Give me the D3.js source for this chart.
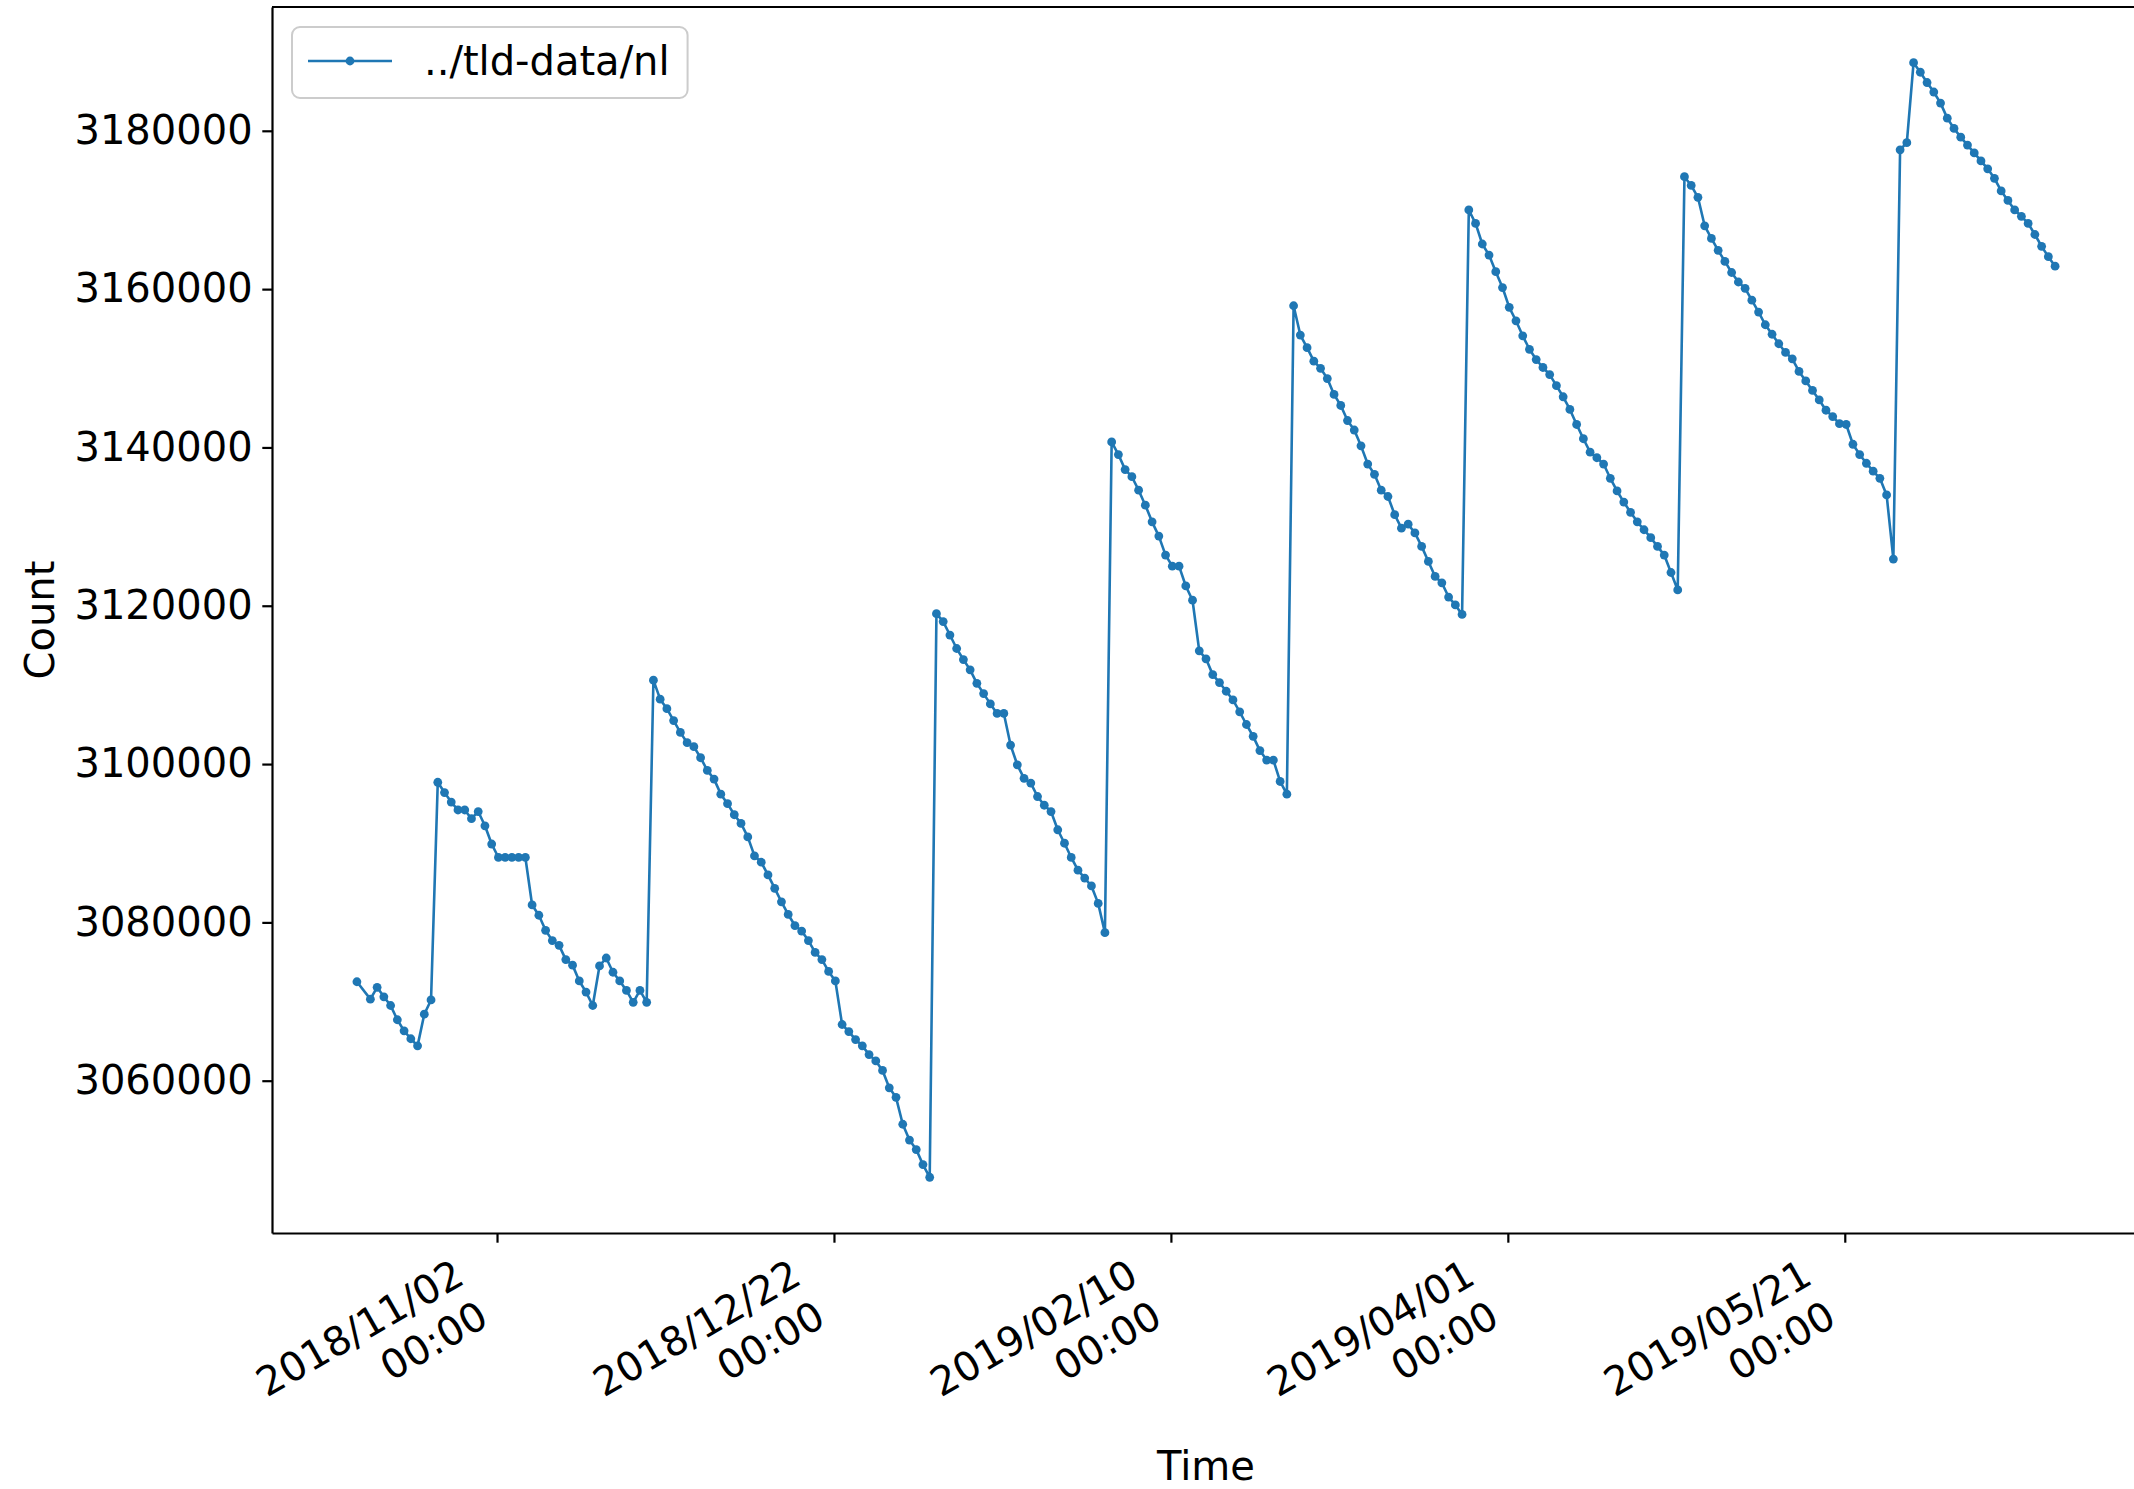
<!DOCTYPE html>
<html>
<head>
<meta charset="utf-8">
<script src="https://cdn.jsdelivr.net/npm/d3@7"></script>
<style>
    body { margin: 0; background: #fff; }
    text { font-family: "DejaVu Sans", sans-serif; fill: #000; }
</style>
</head>
<body>
<div id="vis"></div>
<script>
//values, one per day starting at startDate
//null = no sample that day (the line just joins the neighbours)
const seriesName = "../tld-data/nl"
const startDate = "2018-10-12T05:00:00Z"
const counts = [
    3072500, null, 3070300, 3071800, 3070600, 3069500, 3067700, 3066300, 3065300, 3064400,
    3068400, 3070200, 3097700, 3096400, 3095200, 3094200, 3094200, 3093100, 3094000, 3092200,
    3089900, 3088200, 3088200, 3088200, 3088200, 3088200, 3082200, 3080900, 3079000, 3077700,
    3077100, 3075300, 3074600, 3072600, 3071200, 3069500, 3074500, 3075500, 3073700, 3072600,
    3071400, 3069900, 3071400, 3069900, 3110600, 3108200, 3107000, 3105500, 3104000, 3102700,
    3102200, 3100800, 3099200, 3098100, 3096200, 3095000, 3093600, 3092500, 3090800, 3088400,
    3087600, 3086000, 3084300, 3082600, 3081000, 3079600, 3078900, 3077700, 3076200, 3075300,
    3073800, 3072600, 3067100, 3066200, 3065200, 3064400, 3063300, 3062500, 3061300, 3059100,
    3057900, 3054500, 3052500, 3051300, 3049400, 3047800, 3119000, 3118000, 3116300, 3114600,
    3113200, 3111900, 3110200, 3108900, 3107600, 3106400, 3106400, 3102400, 3099900, 3098200,
    3097600, 3095900, 3094800, 3094000, 3091700, 3090000, 3088200, 3086600, 3085600, 3084600,
    3082400, 3078700, 3140700, 3139100, 3137200, 3136300, 3134600, 3132700, 3130600, 3128800,
    3126400, 3125000, 3125000, 3122500, 3120700, 3114300, 3113300, 3111300, 3110300, 3109200,
    3108100, 3106600, 3105000, 3103500, 3101700, 3100500, 3100500, 3097800, 3096200, 3157900,
    3154200, 3152600, 3150900, 3150000, 3148700, 3146700, 3145300, 3143400, 3142200, 3140200,
    3137900, 3136600, 3134600, 3133800, 3131500, 3129800, 3130300, 3129200, 3127500, 3125600,
    3123700, 3122900, 3121100, 3120100, 3118900, 3170000, 3168300, 3165700, 3164300, 3162200,
    3160200, 3157700, 3156000, 3154100, 3152400, 3151100, 3150100, 3149200, 3147800, 3146400,
    3144800, 3142900, 3141100, 3139400, 3138700, 3137900, 3136100, 3134500, 3133100, 3131800,
    3130600, 3129600, 3128600, 3127500, 3126400, 3124200, 3122000, 3174200, 3173100, 3171600,
    3168000, 3166400, 3164900, 3163500, 3162100, 3160900, 3160100, 3158600, 3157100, 3155500,
    3154300, 3153100, 3152000, 3151200, 3149600, 3148400, 3147200, 3146000, 3144700, 3143900,
    3143000, 3142900, 3140400, 3139100, 3138000, 3137000, 3136100, 3134000, 3125900, 3177600,
    3178500, 3188600, 3187400, 3186100, 3184900, 3183500, 3181600, 3180300, 3179200, 3178200,
    3177200, 3176200, 3175200, 3174000, 3172400, 3171200, 3170000, 3169200, 3168300, 3166900,
    3165400, 3164100, 3162900
]

//tick labels
const yTicks = [3060000, 3080000, 3100000, 3120000, 3140000, 3160000, 3180000]
const xTicks = ["2018-11-02", "2018-12-22", "2019-02-10", "2019-04-01", "2019-05-21"]

//figure size and axes box (right edge sits just past the picture, like the original)
const width = 2134
const height = 1489
const box = { left: 272, top: 7, right: 2140, bottom: 1233 }
const fontSize = 40
const tickLen = 9.7
const tickPad = 9.7
const blue = "#1f77b4"
const lineW = 2.6
const dotR = 4.4

const start = new Date(startDate)
const points = counts
    .map((v, i) => ({ date: d3.utcDay.offset(start, i), value: v }))
    .filter(d => d.value !== null)

const svg = d3.select("#vis")
    .append("svg")
    .attr("width", width)
    .attr("height", height)
    .style("display", "block")
    .style("background", "#fff")

//matplotlib-like 5% margins around the data
const xExt = d3.extent(points, d => d.date)
const xPad = (xExt[1] - xExt[0]) * 0.05
const x = d3.scaleUtc()
    .domain([new Date(+xExt[0] - xPad), new Date(+xExt[1] + xPad)])
    .range([box.left, box.right])

const yExt = d3.extent(points, d => d.value)
const yPad = (yExt[1] - yExt[0]) * 0.05
const y = d3.scaleLinear()
    .domain([yExt[0] - yPad, yExt[1] + yPad])
    .range([box.bottom, box.top])

//y axis
const gy = svg.append("g")
    .attr("transform", `translate(${box.left},0)`)
    .call(d3.axisLeft(y)
        .tickValues(yTicks)
        .tickFormat(d3.format("d"))
        .tickSize(tickLen)
        .tickSizeOuter(0)
        .tickPadding(tickPad))
gy.selectAll("text").style("font-size", fontSize + "px").attr("fill", "#000")
gy.selectAll("line").attr("stroke", "#000").attr("stroke-width", 2.2)
gy.select(".domain").attr("stroke", "#000").attr("stroke-width", 2.2)

//x axis, labels added by hand below
const xTickDates = xTicks.map(s => new Date(s + "T00:00:00Z"))
const gx = svg.append("g")
    .attr("transform", `translate(0,${box.bottom})`)
    .call(d3.axisBottom(x)
        .tickValues(xTickDates)
        .tickFormat("")
        .tickSize(tickLen)
        .tickSizeOuter(0))
gx.selectAll("line").attr("stroke", "#000").attr("stroke-width", 2.2)
gx.select(".domain").attr("stroke", "#000").attr("stroke-width", 2.2)

//top spine
svg.append("line")
    .attr("x1", box.left).attr("x2", box.right)
    .attr("y1", box.top).attr("y2", box.top)
    .attr("stroke", "#000").attr("stroke-width", 2.2)

//rotated two line date labels, right edge of the rotated box under the tick
const fmt = d3.utcFormat("%Y/%m/%d")
const fmtTime = d3.utcFormat("%H:%M")
xTickDates.forEach(d => {
    const lab = svg.append("g")
    const t = lab.append("text")
        .attr("text-anchor", "end")
        .attr("transform", "rotate(-30)")
        .style("font-size", fontSize + "px")
    t.append("tspan").attr("x", 0).attr("dy", 0).text(fmt(d))
    t.append("tspan").attr("x", 0).attr("dy", "1.2em").text(fmtTime(d))
    const b = lab.node().getBBox()
    lab.attr("transform",
        `translate(${x(d) - 2 - (b.x + b.width)},${box.bottom + tickLen + tickPad - 2 - b.y})`)
})

//axis titles
svg.append("text")
    .attr("x", (box.left + box.right) / 2)
    .attr("y", 1480)
    .attr("text-anchor", "middle")
    .style("font-size", fontSize + "px")
    .text("Time")

svg.append("text")
    .attr("transform", `translate(54,${(box.top + box.bottom) / 2}) rotate(-90)`)
    .attr("text-anchor", "middle")
    .style("font-size", fontSize + "px")
    .text("Count")

//the series
const line = d3.line()
    .x(d => x(d.date))
    .y(d => y(d.value))

svg.append("path")
    .datum(points)
    .attr("d", line)
    .attr("fill", "none")
    .attr("stroke", blue)
    .attr("stroke-width", lineW)
    .attr("stroke-linejoin", "round")

svg.append("g")
    .selectAll("circle")
    .data(points)
    .enter()
    .append("circle")
    .attr("cx", d => x(d.date))
    .attr("cy", d => y(d.value))
    .attr("r", dotR)
    .attr("fill", blue)

//legend
const lg = svg.append("g").attr("transform", `translate(${box.left + 20},${box.top + 20})`)
const frame = lg.append("rect")
    .attr("rx", 8).attr("ry", 8)
    .attr("fill", "#fff")
    .attr("fill-opacity", 0.8)
    .attr("stroke", "#cccccc")
    .attr("stroke-width", 2)
const handleY = 34
lg.append("line")
    .attr("x1", 16).attr("x2", 100)
    .attr("y1", handleY).attr("y2", handleY)
    .attr("stroke", blue).attr("stroke-width", lineW)
lg.append("circle")
    .attr("cx", 58).attr("cy", handleY).attr("r", dotR)
    .attr("fill", blue)
const lt = lg.append("text")
    .attr("x", 132)
    .attr("y", handleY)
    .attr("dy", "0.36em")
    .style("font-size", fontSize + "px")
    .text(seriesName)
const tw = lt.node().getComputedTextLength()
frame.attr("x", 0).attr("y", 0)
    .attr("width", 132 + tw + 18)
    .attr("height", 71)
</script>
</body>
</html>
